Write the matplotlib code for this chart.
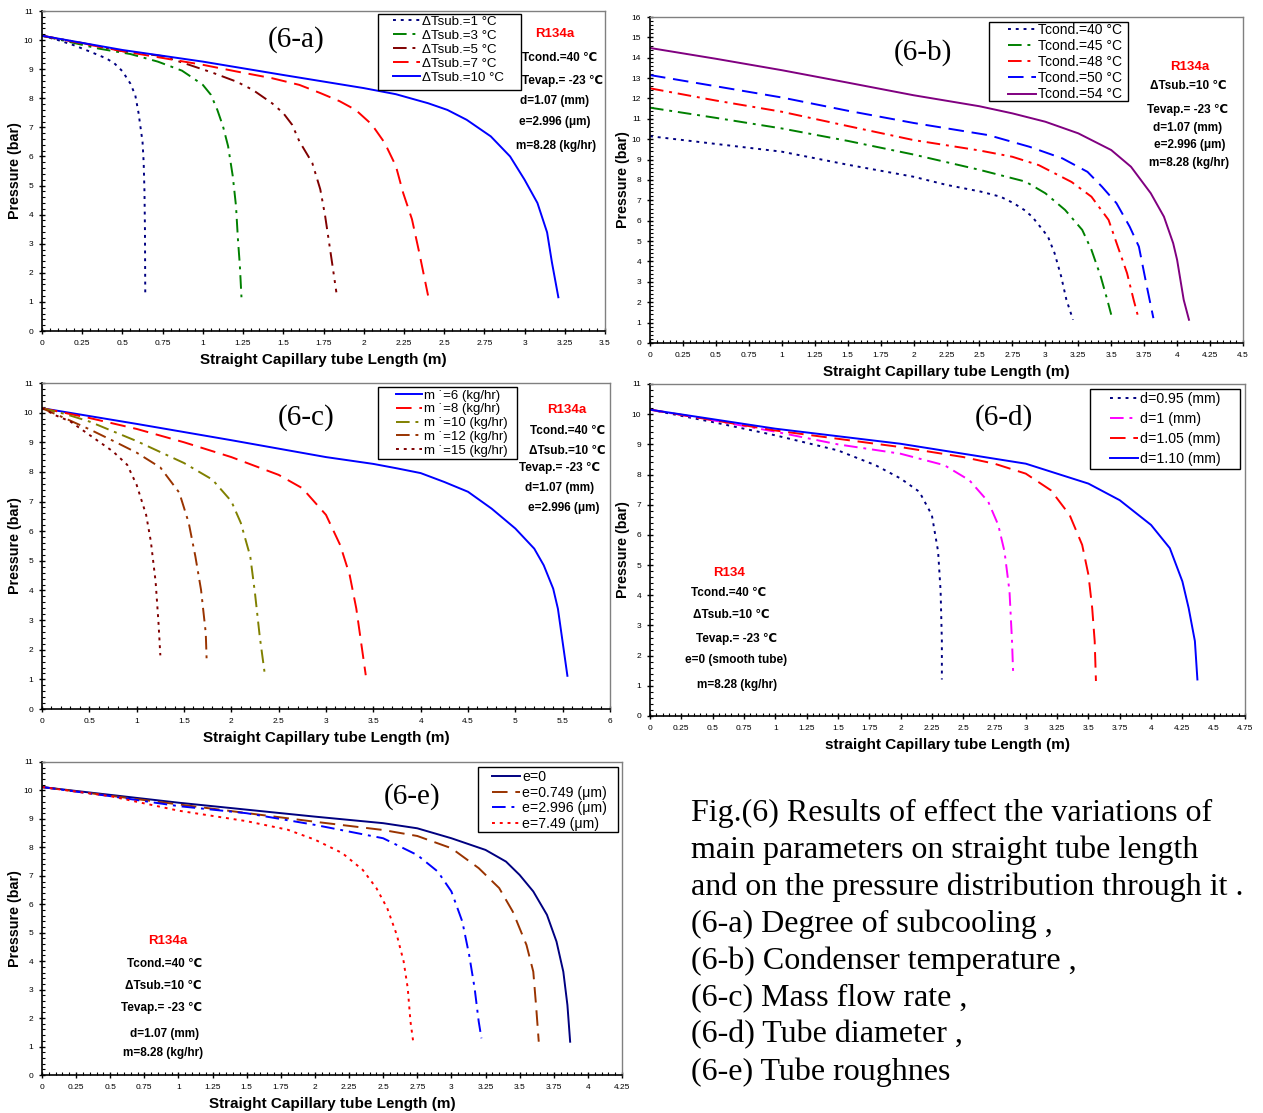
import matplotlib
matplotlib.use("Agg")
import matplotlib.pyplot as plt
from matplotlib.patches import Rectangle
from matplotlib.ticker import MultipleLocator, AutoMinorLocator, FuncFormatter

plt.rcParams['font.family'] = ['Liberation Sans', 'DejaVu Sans']

# ---------------- DATA ----------------
# (6-a) Degree of subcooling
a_labels = ["ΔTsub.=1 °C", "ΔTsub.=3 °C", "ΔTsub.=5 °C", "ΔTsub.=7 °C", "ΔTsub.=10 °C"]
a_x1 = [0, 0.1, 0.2, 0.3, 0.4, 0.45, 0.5, 0.55, 0.58, 0.6, 0.61, 0.625, 0.632, 0.637, 0.64, 0.642]
a_y1 = [10.15, 10.0, 9.82, 9.6, 9.37, 9.2, 8.93, 8.5, 8.1, 7.5, 7.1, 6.5, 5.8, 4.8, 3.5, 1.2]
a_x2 = [0, 0.2, 0.35, 0.55, 0.72, 0.87, 0.94, 1.0, 1.05, 1.09, 1.125, 1.157, 1.186, 1.206, 1.218, 1.23, 1.24]
a_y2 = [10.15, 9.9, 9.71, 9.52, 9.26, 8.95, 8.69, 8.46, 8.12, 7.6, 7.04, 6.35, 5.32, 4.3, 3.16, 2.25, 1.16]
a_x3 = [0, 0.25, 0.5, 0.75, 0.92, 1.06, 1.21, 1.31, 1.43, 1.5, 1.555, 1.6, 1.68, 1.73, 1.76, 1.8, 1.83]
a_y3 = [10.15, 9.9, 9.62, 9.45, 9.14, 8.88, 8.57, 8.29, 7.83, 7.49, 7.09, 6.52, 5.78, 4.87, 3.96, 2.47, 1.33]
a_x4 = [0, 0.5, 1.0, 1.21, 1.43, 1.6, 1.73, 1.85, 1.95, 2.05, 2.13, 2.2, 2.245, 2.3, 2.345, 2.4]
a_y4 = [10.15, 9.62, 9.15, 8.92, 8.69, 8.46, 8.18, 7.9, 7.6, 7.1, 6.47, 5.67, 4.75, 3.84, 2.7, 1.22]
a_x5 = [0, 0.5, 1.0, 1.5, 2.0, 2.2, 2.4, 2.52, 2.64, 2.79, 2.91, 3.0, 3.08, 3.14, 3.17, 3.21]
a_y5 = [10.15, 9.66, 9.26, 8.8, 8.35, 8.14, 7.83, 7.6, 7.26, 6.69, 6.0, 5.2, 4.4, 3.39, 2.36, 1.16]

# (6-b) Condenser temperature
b_labels = ["Tcond.=40 °C", "Tcond.=45 °C", "Tcond.=48 °C", "Tcond.=50 °C", "Tcond.=54 °C"]
b_x1 = [0, 0.5, 1.0, 1.5, 2.0, 2.25, 2.51, 2.66, 2.76, 2.84, 2.9, 2.98, 3.02, 3.07, 3.12, 3.16, 3.21]
b_y1 = [10.15, 9.77, 9.39, 8.75, 8.16, 7.76, 7.43, 7.18, 6.86, 6.53, 6.2, 5.55, 5.22, 4.41, 3.27, 2.12, 1.14]
b_x2 = [0, 0.5, 1.0, 1.5, 2.0, 2.5, 2.85, 3.0, 3.15, 3.28, 3.35, 3.42, 3.47, 3.5]
b_y2 = [11.55, 11.05, 10.53, 9.92, 9.25, 8.5, 7.92, 7.35, 6.53, 5.55, 4.57, 3.27, 2.12, 1.39]
b_x3 = [0, 0.5, 1.0, 1.5, 2.0, 2.5, 2.75, 2.95, 3.2, 3.35, 3.48, 3.55, 3.62, 3.67, 3.7]
b_y3 = [12.5, 11.9, 11.35, 10.65, 9.96, 9.45, 9.14, 8.73, 7.9, 7.18, 6.04, 4.73, 3.43, 2.12, 1.39]
b_x4 = [0, 0.5, 1.0, 1.5, 2.0, 2.57, 2.88, 3.13, 3.32, 3.43, 3.54, 3.64, 3.71, 3.77, 3.82]
b_y4 = [13.15, 12.6, 12.05, 11.4, 10.8, 10.2, 9.63, 9.06, 8.4, 7.67, 6.86, 5.71, 4.73, 2.78, 1.22]
b_x5 = [0, 0.5, 1.0, 1.5, 2.0, 2.5, 2.75, 3.0, 3.25, 3.5, 3.65, 3.8, 3.9, 3.97, 4.0, 4.05, 4.09]
b_y5 = [14.48, 13.95, 13.39, 12.78, 12.16, 11.62, 11.27, 10.86, 10.29, 9.47, 8.65, 7.35, 6.2, 4.9, 4.08, 2.12, 1.14]

# (6-c) Mass flow rate
c_labels = ["m \u02d9=6 (kg/hr)", "m \u02d9=8 (kg/hr)", "m \u02d9=10 (kg/hr)", "m \u02d9=12 (kg/hr)", "m \u02d9=15 (kg/hr)"]
c_x1 = [0, 1.0, 2.0, 3.0, 3.5, 3.75, 4.0, 4.25, 4.5, 4.75, 5.0, 5.2, 5.3, 5.4, 5.45, 5.5, 5.55]
c_y1 = [10.15, 9.62, 9.07, 8.5, 8.27, 8.12, 7.96, 7.66, 7.33, 6.76, 6.09, 5.41, 4.85, 4.06, 3.38, 2.25, 1.12]
c_x2 = [0, 0.5, 1.0, 1.5, 2.0, 2.5, 2.75, 3.0, 3.15, 3.25, 3.32, 3.38, 3.42]
c_y2 = [10.15, 9.82, 9.45, 9.0, 8.5, 7.9, 7.45, 6.55, 5.53, 4.52, 3.39, 2.04, 1.14]
c_x3 = [0, 0.25, 0.5, 1.0, 1.5, 1.8, 2.0, 2.1, 2.2, 2.25, 2.3, 2.35]
c_y3 = [10.15, 9.95, 9.7, 9.04, 8.3, 7.74, 7.01, 6.28, 5.15, 3.9, 2.45, 1.26]
c_x4 = [0, 0.25, 0.5, 0.75, 1.0, 1.25, 1.45, 1.55, 1.62, 1.68, 1.73, 1.74]
c_y4 = [10.15, 9.8, 9.44, 9.05, 8.65, 8.15, 7.3, 6.28, 5.15, 4.02, 2.56, 1.57]
c_x5 = [0, 0.15, 0.3, 0.5, 0.75, 0.9, 1.0, 1.1, 1.15, 1.2, 1.23, 1.25]
c_y5 = [10.15, 9.9, 9.7, 9.25, 8.69, 8.24, 7.56, 6.55, 5.65, 4.3, 2.94, 1.81]

# (6-d) Tube diameter
d_labels = ["d=0.95 (mm)", "d=1 (mm)", "d=1.05 (mm)", "d=1.10 (mm)"]
d_x1 = [0, 0.5, 1.0, 1.5, 1.8, 2.0, 2.15, 2.25, 2.3, 2.32, 2.33, 2.33]
d_y1 = [10.15, 9.74, 9.3, 8.8, 8.31, 7.87, 7.43, 6.66, 5.45, 4.13, 2.48, 1.21]
d_x2 = [0, 0.5, 1.0, 1.5, 2.0, 2.35, 2.55, 2.7, 2.78, 2.83, 2.87, 2.89, 2.9]
d_y2 = [10.15, 9.8, 9.42, 9.0, 8.69, 8.31, 7.81, 7.1, 6.33, 5.45, 4.13, 2.48, 1.32]
d_x3 = [0, 1.0, 2.0, 2.5, 2.75, 3.0, 3.2, 3.35, 3.45, 3.5, 3.53, 3.55, 3.56]
d_y3 = [10.15, 9.46, 8.91, 8.58, 8.36, 8.03, 7.48, 6.66, 5.67, 4.68, 3.58, 2.48, 1.16]
d_x4 = [0, 1.0, 2.0, 2.5, 3.0, 3.25, 3.5, 3.75, 4.0, 4.15, 4.25, 4.3, 4.35, 4.37]
d_y4 = [10.15, 9.52, 9.02, 8.69, 8.36, 8.03, 7.7, 7.15, 6.33, 5.56, 4.46, 3.58, 2.48, 1.21]

# (6-e) Tube roughness
e_labels = ["e=0", "e=0.749 (μm)", "e=2.996 (μm)", "e=7.49 (μm)"]
e_x1 = [0, 1.0, 2.0, 2.5, 2.75, 3.0, 3.25, 3.4, 3.5, 3.6, 3.7, 3.77, 3.82, 3.85, 3.87]
e_y1 = [10.12, 9.57, 9.08, 8.85, 8.67, 8.32, 7.91, 7.5, 7.03, 6.45, 5.63, 4.69, 3.63, 2.46, 1.17]
e_x2 = [0, 1.0, 2.0, 2.5, 2.75, 3.0, 3.2, 3.35, 3.45, 3.55, 3.6, 3.62, 3.64]
e_y2 = [10.12, 9.51, 8.9, 8.61, 8.4, 7.97, 7.27, 6.57, 5.74, 4.57, 3.63, 2.46, 1.17]
e_x3 = [0, 0.5, 1.0, 1.5, 2.0, 2.5, 2.75, 2.9, 3.0, 3.08, 3.13, 3.17, 3.2, 3.22]
e_y3 = [10.12, 9.8, 9.45, 9.2, 8.79, 8.32, 7.73, 7.15, 6.45, 5.39, 4.22, 3.05, 1.88, 1.29]
e_x4 = [0, 0.5, 1.0, 1.5, 1.8, 2.0, 2.2, 2.35, 2.45, 2.53, 2.6, 2.65, 2.68, 2.7, 2.72]
e_y4 = [10.12, 9.8, 9.29, 8.92, 8.62, 8.27, 7.8, 7.21, 6.57, 5.86, 4.92, 3.99, 3.05, 1.88, 1.17]

caption_lines = [
    "Fig.(6) Results of effect the variations of",
    "main parameters on straight tube length",
    "and on the pressure distribution through it .",
    "(6-a) Degree of subcooling ,",
    "(6-b) Condenser temperature ,",
    "(6-c) Mass flow rate ,",
    "(6-d) Tube diameter ,",
    "(6-e) Tube roughnes",
]

# ---------------- STYLES ----------------
NAVY, GREEN, DRED, RED, BLUE = "#000080", "#008000", "#800000", "#FF0000", "#0000FF"
PURPLE, OLIVE, SIENNA, MAGENTA = "#800080", "#808000", "#993300", "#FF00FF"
DOT = (0, (1.5, 2.5))
DASHDOT = (0, (7, 3, 1.5, 3))
DASHDOTDOT = (0, (7, 3, 1.5, 3, 1.5, 3))
DASH = (0, (8, 4))

W, H = 1263, 1113
fig = plt.figure(figsize=(W / 100, H / 100), dpi=100)


def px_axes(l, t, r, b):
    return fig.add_axes([l / W, 1 - b / H, (r - l) / W, (b - t) / H])


def ptext(x, y, s, **kw):
    fig.text(x / W, 1 - y / H, s, ha='center', va='center', **kw)


fmt = FuncFormatter(lambda v, p: f"{v:g}")


def style_axes(ax, xmax, xstep, ymax, xlabel):
    ax.set_xlim(0, xmax)
    ax.set_ylim(0, ymax)
    ax.xaxis.set_major_locator(MultipleLocator(xstep))
    ax.yaxis.set_major_locator(MultipleLocator(1))
    ax.xaxis.set_minor_locator(AutoMinorLocator(5))
    ax.yaxis.set_minor_locator(AutoMinorLocator(5))
    ax.xaxis.set_major_formatter(fmt)
    ax.yaxis.set_major_formatter(fmt)
    ax.tick_params(which='major', direction='inout', length=5, width=1, labelsize=6, pad=4)
    ax.tick_params(which='minor', direction='in', length=2.5, width=0.8)
    for s in ['top', 'right']:
        ax.spines[s].set_color('#808080')
        ax.spines[s].set_linewidth(1)
    for s in ['left', 'bottom']:
        ax.spines[s].set_color('black')
        ax.spines[s].set_linewidth(1.2)
    ax.set_xlabel(xlabel, fontsize=11, fontweight='bold', labelpad=4)
    ax.set_ylabel("Pressure (bar)", fontsize=10.3, fontweight='bold', labelpad=1)


def add_legend(ax, box, hx, row1, fs, spacing):
    """box = (left, top, right, bottom) in pixels; hx = handle start x; row1 = first row centre y."""
    l, t, r, b = box
    ax.add_patch(Rectangle((l / W, 1 - b / H), (r - l) / W, (b - t) / H, transform=fig.transFigure,
                           facecolor='white', edgecolor='black', lw=1.0, zorder=4, clip_on=False))
    fs_px = fs * 100 / 72
    top = row1 - 0.5 * fs_px
    ax.legend(loc='upper left', bbox_to_anchor=(hx / W, 1 - top / H), bbox_transform=fig.transFigure,
              fontsize=fs, frameon=False, borderaxespad=0, borderpad=0, handlelength=2.0,
              handletextpad=0.15, labelspacing=spacing).set_zorder(5)


LW = 1.4
BOLD = dict(fontsize=8.5, fontweight='bold')
REDB = dict(fontsize=9.5, fontweight='bold', color='red')
SERIF = ['Liberation Serif', 'DejaVu Serif']
PLABEL = dict(fontsize=21, family=SERIF)

# ---------- (6-a) ----------
ax = px_axes(42, 11, 605, 331)
style_axes(ax, 3.5, 0.25, 11, "Straight Capillary tube Length (m)")
ax.plot(a_x1, a_y1, color=NAVY, ls=DOT, lw=LW, label=a_labels[0])
ax.plot(a_x2, a_y2, color=GREEN, ls=DASHDOT, lw=LW, label=a_labels[1])
ax.plot(a_x3, a_y3, color=DRED, ls=DASHDOTDOT, lw=LW, label=a_labels[2])
ax.plot(a_x4, a_y4, color=RED, ls=DASH, lw=LW, label=a_labels[3])
ax.plot(a_x5, a_y5, color=BLUE, ls='-', lw=LW, label=a_labels[4])
add_legend(ax, (378, 14, 521, 90), 393, 22, fs=9.6, spacing=0.13)
ptext(296, 40, "(6-a)", **PLABEL)
ptext(555, 34, "R134a", **REDB)
ptext(560, 58, "Tcond.=40 ℃", **BOLD)
ptext(563, 81, "Tevap.= -23 ℃", **BOLD)
ptext(555, 101, "d=1.07 (mm)", **BOLD)
ptext(555, 122, "e=2.996 (μm)", **BOLD)
ptext(556, 146, "m=8.28 (kg/hr)", **BOLD)

# ---------- (6-b) ----------
ax = px_axes(650, 17, 1243, 343)
style_axes(ax, 4.5, 0.25, 16, "Straight Capillary tube Length (m)")
ax.plot(b_x1, b_y1, color=NAVY, ls=DOT, lw=LW, label=b_labels[0])
ax.plot(b_x2, b_y2, color=GREEN, ls=DASHDOT, lw=LW, label=b_labels[1])
ax.plot(b_x3, b_y3, color=RED, ls=DASHDOT, lw=LW, label=b_labels[2])
ax.plot(b_x4, b_y4, color=BLUE, ls=DASH, lw=LW, label=b_labels[3])
ax.plot(b_x5, b_y5, color=PURPLE, ls='-', lw=LW, label=b_labels[4])
add_legend(ax, (989, 22, 1128, 101), 1008, 30, fs=10, spacing=0.15)
ptext(923, 53, "(6-b)", **PLABEL)
ptext(1190, 67, "R134a", **REDB)
ptext(1188, 86, "ΔTsub.=10 ℃", **BOLD)
ptext(1188, 110, "Tevap.= -23 ℃", **BOLD)
ptext(1188, 128, "d=1.07 (mm)", **BOLD)
ptext(1190, 145, "e=2.996 (μm)", **BOLD)
ptext(1189, 163, "m=8.28 (kg/hr)", **BOLD)

# ---------- (6-c) ----------
ax = px_axes(42, 383, 610, 709)
style_axes(ax, 6, 0.5, 11, "Straight Capillary tube Length (m)")
ax.plot(c_x1, c_y1, color=BLUE, ls='-', lw=LW, label=c_labels[0])
ax.plot(c_x2, c_y2, color=RED, ls=DASH, lw=LW, label=c_labels[1])
ax.plot(c_x3, c_y3, color=OLIVE, ls=DASHDOT, lw=LW, label=c_labels[2])
ax.plot(c_x4, c_y4, color=SIENNA, ls=DASHDOT, lw=LW, label=c_labels[3])
ax.plot(c_x5, c_y5, color=DRED, ls=DOT, lw=LW, label=c_labels[4])
add_legend(ax, (378, 387, 517, 459), 396, 396, fs=9.5, spacing=0.12)
ptext(306, 418, "(6-c)", **PLABEL)
ptext(567, 410, "R134a", **REDB)
ptext(568, 431, "Tcond.=40 ℃", **BOLD)
ptext(567, 451, "ΔTsub.=10 ℃", **BOLD)
ptext(560, 468, "Tevap.= -23 ℃", **BOLD)
ptext(560, 488, "d=1.07 (mm)", **BOLD)
ptext(564, 508, "e=2.996 (μm)", **BOLD)

# ---------- (6-d) ----------
ax = px_axes(650, 384, 1245, 716)
style_axes(ax, 4.75, 0.25, 11, "straight Capillary tube Length (m)")
ax.plot(d_x1, d_y1, color=NAVY, ls=DOT, lw=LW, label=d_labels[0])
ax.plot(d_x2, d_y2, color=MAGENTA, ls=DASHDOT, lw=LW, label=d_labels[1])
ax.plot(d_x3, d_y3, color=RED, ls=DASH, lw=LW, label=d_labels[2])
ax.plot(d_x4, d_y4, color=BLUE, ls='-', lw=LW, label=d_labels[3])
add_legend(ax, (1090, 389, 1240, 469), 1110, 399, fs=10.2, spacing=0.42)
ptext(1004, 418, "(6-d)", **PLABEL)
ptext(729, 573, "R134", **REDB)
ptext(729, 593, "Tcond.=40 ℃", **BOLD)
ptext(731, 615, "ΔTsub.=10 ℃", **BOLD)
ptext(737, 639, "Tevap.= -23 ℃", **BOLD)
ptext(736, 660, "e=0 (smooth tube)", **BOLD)
ptext(737, 685, "m=8.28 (kg/hr)", **BOLD)

# ---------- (6-e) ----------
ax = px_axes(42, 762, 622, 1075)
style_axes(ax, 4.25, 0.25, 11, "Straight Capillary tube Length (m)")
ax.plot(e_x1, e_y1, color=NAVY, ls='-', lw=LW, label=e_labels[0])
ax.plot(e_x2, e_y2, color=SIENNA, ls=DASH, lw=LW, label=e_labels[1])
ax.plot(e_x3, e_y3, color=BLUE, ls=DASHDOT, lw=LW, label=e_labels[2])
ax.plot(e_x4, e_y4, color=RED, ls=DOT, lw=LW, label=e_labels[3])
add_legend(ax, (478, 767, 618, 832), 492, 777, fs=10.2, spacing=0.12)
ptext(412, 797, "(6-e)", **PLABEL)
ptext(168, 941, "R134a", **REDB)
ptext(165, 964, "Tcond.=40 ℃", **BOLD)
ptext(163, 986, "ΔTsub.=10 ℃", **BOLD)
ptext(162, 1008, "Tevap.= -23 ℃", **BOLD)
ptext(165, 1034, "d=1.07 (mm)", **BOLD)
ptext(163, 1053, "m=8.28 (kg/hr)", **BOLD)

# ---------- caption ----------
for i, line in enumerate(caption_lines):
    fig.text(691 / W, 1 - (813 + 37 * i) / H, line, ha='left', va='center',
             fontsize=23, family=SERIF)

fig.savefig("out.png", dpi=100)
